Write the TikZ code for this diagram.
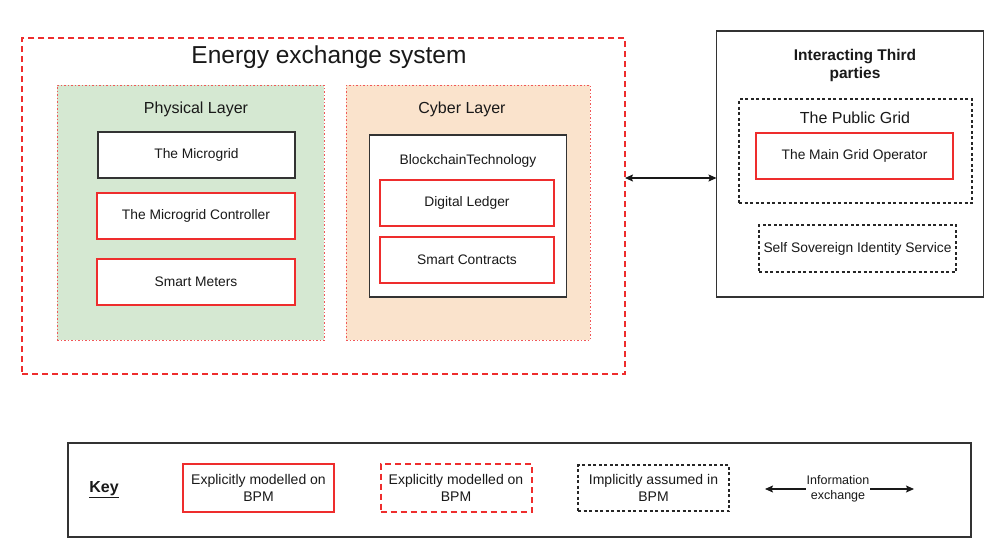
\documentclass[tikz,border=0pt]{standalone}
\usepackage{fontspec}
\setmainfont{Liberation Sans}
\usetikzlibrary{arrows.meta}
\definecolor{bpmred}{RGB}{238,45,45}
\definecolor{physfill}{RGB}{213,232,210}
\definecolor{cyberfill}{RGB}{250,227,204}
\definecolor{txt}{RGB}{25,25,25}
\tikzset{
  every node/.style={text=txt, inner sep=0pt, outer sep=0pt},
  itemfont/.style={font=\fontsize{13.8}{16}\selectfont},
  explicit/.style={draw=bpmred, line width=2pt, fill=white, align=center, itemfont},
  plainbox/.style={draw=black!80, line width=1.2pt, fill=white, align=center, itemfont},
  sysframe/.style={draw=bpmred, line width=2pt, dash pattern=on 6pt off 4pt},
  layer/.style={draw=bpmred!80, line width=0.8pt, dash pattern=on 1.5pt off 2pt},
  implicit/.style={draw=black!85, line width=1.1pt, dash pattern=on 3pt off 2.5pt, fill=white, align=center, itemfont},
  infoarrow/.style={{Stealth[length=8pt,width=7pt,inset=1.5pt]}-{Stealth[length=8pt,width=7pt,inset=1.5pt]}, line width=1.2pt, draw=black!90},
  heading/.style={font=\fontsize{16}{19}\selectfont},
  keytext/.style={align=center, font=\fontsize{14}{17}\selectfont},
}
\begin{document}
\begin{tikzpicture}[x=1pt, y=-1pt]
\useasboundingbox[fill=white] (0,0) rectangle (985,552);

% energy exchange system frame
\node[sysframe, minimum width=603pt, minimum height=336pt] (ees) at (323.5,206) {};
\node[font=\fontsize{24.5}{28}\selectfont] (eest) at (329,57) {Energy exchange system};

% physical layer
\node[layer, fill=physfill, minimum width=267pt, minimum height=255pt] (phys) at (190.5,212.5) {};
\node[heading] (physt) at (196,109) {Physical Layer};
\node[plainbox, minimum width=197pt, minimum height=46pt] (mg) at (196.5,155) {The Microgrid};
\node[explicit, minimum width=198pt, minimum height=46pt] (mgc) at (196,215.5) {The Microgrid Controller};
\node[explicit, minimum width=198pt, minimum height=46pt] (sm) at (196,281.5) {Smart Meters};

% cyber layer
\node[layer, fill=cyberfill, minimum width=244pt, minimum height=255pt] (cyber) at (468,212.5) {};
\node[heading] (cybert) at (462,109) {Cyber Layer};
\node[plainbox, minimum width=197pt, minimum height=162pt] (bc) at (468,216) {};
\node[itemfont] (bct) at (468,161) {BlockchainTechnology};
\node[explicit, minimum width=174pt, minimum height=46pt] (dl) at (467,202.5) {Digital Ledger};
\node[explicit, minimum width=174pt, minimum height=46pt] (sc) at (467,260) {Smart Contracts};

% interacting third parties
\node[plainbox, minimum width=267pt, minimum height=266pt] (itp) at (850,164) {};
\node[font=\bfseries\fontsize{15.5}{17.5}\selectfont, align=center] (itpt) at (855,65.5) {Interacting Third\\parties};
\node[implicit, minimum width=233pt, minimum height=104pt] (pg) at (855.5,151) {};
\node[heading] (pgt) at (855,118) {The Public Grid};
\node[explicit, minimum width=197pt, minimum height=46pt] (mgo) at (854.5,156) {The Main Grid Operator};
\node[implicit, minimum width=197pt, minimum height=47pt] (ssi) at (857.5,248.5) {Self Sovereign Identity Service};

% information exchange between the system and third parties
\coordinate (linky) at (0,178);
\draw[infoarrow] (ees.east |- linky) -- (itp.west |- linky);

% key
\node[plainbox, minimum width=903pt, minimum height=94pt] (key) at (519.5,490) {};
\node[font=\bfseries\fontsize{16}{19}\selectfont] (keyt) at (104,490) {\underline{Key}};
\node[explicit, keytext, minimum width=151pt, minimum height=48pt] (k1) at (258.5,487.5) {Explicitly modelled on\\BPM};
\node[sysframe, fill=white, keytext, minimum width=151pt, minimum height=48pt] (k2) at (456,487.5) {Explicitly modelled on\\BPM};
\node[implicit, keytext, minimum width=151pt, minimum height=46pt] (k3) at (653.5,488) {Implicitly assumed in\\BPM};
\coordinate (k4l) at (765,489);
\coordinate (k4r) at (914,489);
\draw[infoarrow, line width=1.1pt] (k4l) -- (k4r);
\node[fill=white, align=center, font=\fontsize{12.5}{15}\selectfont, inner xsep=1pt] (k4) at (838,489) {Information\\exchange};
\end{tikzpicture}
\end{document}
